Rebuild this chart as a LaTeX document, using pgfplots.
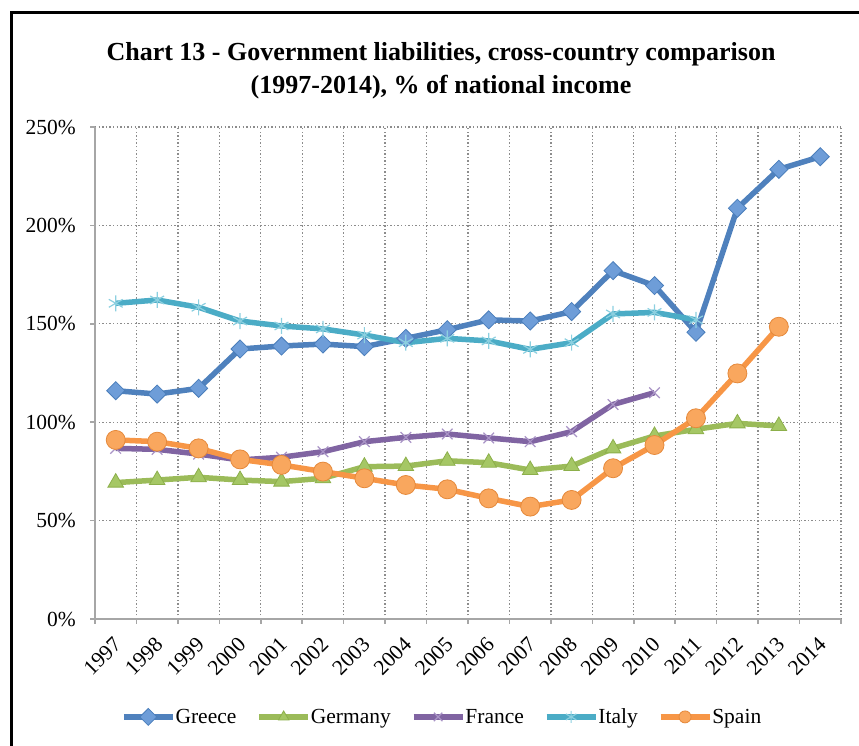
\documentclass[border=0pt]{standalone}
\usepackage{fontspec}
\setmainfont{Liberation Serif}
\usepackage{pgfplots}
\pgfplotsset{compat=1.18}
\definecolor{grL}{HTML}{4F81BD}
\definecolor{grM}{HTML}{6E9DD8}
\definecolor{grD}{HTML}{4A7EBB}
\definecolor{geL}{HTML}{9BBB59}
\definecolor{geM}{HTML}{A5C765}
\definecolor{geD}{HTML}{8CAF4A}
\definecolor{frL}{HTML}{8064A2}
\definecolor{frM}{HTML}{A994C6}
\definecolor{itL}{HTML}{4BACC6}
\definecolor{itM}{HTML}{8CD0E0}
\definecolor{spL}{HTML}{F79646}
\definecolor{spM}{HTML}{F9A75E}
\definecolor{spD}{HTML}{E5893B}
\definecolor{gridc}{HTML}{8C8C8C}
\definecolor{axc}{HTML}{A6A6A6}
\begin{document}
\begin{tikzpicture}
\path[use as bounding box] (0pt,0pt) rectangle (859pt,746pt);
\draw[line width=3pt] (11.5pt,-20pt) -- (11.5pt,733pt) -- (890pt,733pt);
\node[anchor=base, inner sep=0pt, font=\fontsize{26}{30}\selectfont\bfseries] at (441pt,685pt) {Chart 13 - Government liabilities, cross-country comparison};
\node[anchor=base, inner sep=0pt, font=\fontsize{26}{30}\selectfont\bfseries] at (441pt,652pt) {(1997-2014), \% of national income};
\begin{axis}[
  at={(95pt,127pt)}, anchor=south west,
  scale only axis, width=746pt, height=492pt,
  xmin=-0.5, xmax=17.5, ymin=0, ymax=250,
  axis lines*=left,
  axis line style={draw=axc, line width=1.8pt},
  tick align=outside,
  major tick length=5pt,
  tick style={draw=axc, line width=1.5pt},
  xtick={-0.5,0.5,...,17.5},
  xticklabels={},
  extra x ticks={0,1,...,17},
  extra x tick labels={1997,1998,1999,2000,2001,2002,2003,2004,2005,2006,2007,2008,2009,2010,2011,2012,2013,2014},
  extra x tick style={grid=none, major tick length=0pt, tick style={draw=none},
     xticklabel style={xshift=2pt, yshift=-22pt, rotate=45, anchor=east, inner sep=0pt}},
  ytick={0,50,...,250},
  yticklabels={0\%,50\%,100\%,150\%,200\%,250\%},
  yticklabel style={inner sep=0pt, xshift=-14pt},
  grid=major,
  major grid style={draw=gridc, line width=1.3pt, dash pattern=on 1.4pt off 2.2pt},
  tick label style={font=\fontsize{21.5}{24}\selectfont},
  /pgf/number format/assume math mode=true,
  clip=false,
  legend columns=5,
  legend style={draw=none, fill=none, at={(0.464,-0.199)}, anchor=center,
     font=\fontsize{21.5}{24}\selectfont,
     nodes={inner sep=0pt},
     /tikz/every even column/.append style={column sep=20pt}},
  legend image post style={mark size=6pt},
  legend image code/.code={\draw[mark repeat=2,mark phase=2,#1] plot coordinates {(0pt,0pt)(24.5pt,0pt)(49pt,0pt)};},
]
\addplot[color=grL, line width=5.5pt, mark=square*, mark size=6.4pt,
  mark options={rotate=45, fill=grM, draw=grD, line width=0.8pt}]
  coordinates {(0,116)(1,114.3)(2,117.2)(3,137.2)(4,138.7)(5,139.7)(6,138.4)(7,142.6)(8,147)(9,152)(10,151.4)(11,156.2)(12,177)(13,169.4)(14,145.7)(15,208.7)(16,228.5)(17,234.9)};
\addlegendentry{Greece}
\addplot[color=geL, line width=5.5pt, mark=triangle*, mark size=9pt,
  mark options={fill=geM, draw=geD, line width=0.8pt}]
  coordinates {(0,69.3)(1,70.6)(2,72)(3,70.6)(4,69.8)(5,71.5)(6,77.4)(7,77.7)(8,80.4)(9,79.4)(10,75.7)(11,77.7)(12,86.7)(13,93)(14,96.4)(15,99.4)(16,98.1)};
\addlegendentry{Germany}
\addplot[color=frL, line width=5.5pt, mark=x, mark size=7.5pt,
  mark options={draw=frM, line width=1.2pt}]
  coordinates {(0,86.7)(1,86.2)(2,83.8)(3,80.8)(4,82.2)(5,85)(6,90.1)(7,92.3)(8,94)(9,92)(10,90.1)(11,95.2)(12,109)(13,115)};
\addlegendentry{France}
\addplot[color=itL, line width=5.5pt, mark=asterisk, mark size=8pt,
  mark options={draw=itM, line width=1.2pt}]
  coordinates {(0,160.4)(1,162.1)(2,158.4)(3,151.4)(4,148.9)(5,147.4)(6,144.3)(7,140.4)(8,142.6)(9,141.3)(10,137)(11,140.4)(12,155)(13,155.8)(14,152)};
\addlegendentry{Italy}
\addplot[color=spL, line width=5.5pt, mark=*, mark size=9.5pt,
  mark options={fill=spM, draw=spD, line width=0.8pt}]
  coordinates {(0,91)(1,90.1)(2,86.7)(3,81.1)(4,78.3)(5,74.9)(6,71.5)(7,68.1)(8,65.9)(9,61.3)(10,57.1)(11,60.5)(12,76.6)(13,88.4)(14,102)(15,124.8)(16,148.5)};
\addlegendentry{Spain}
\end{axis}
\end{tikzpicture}
\end{document}
